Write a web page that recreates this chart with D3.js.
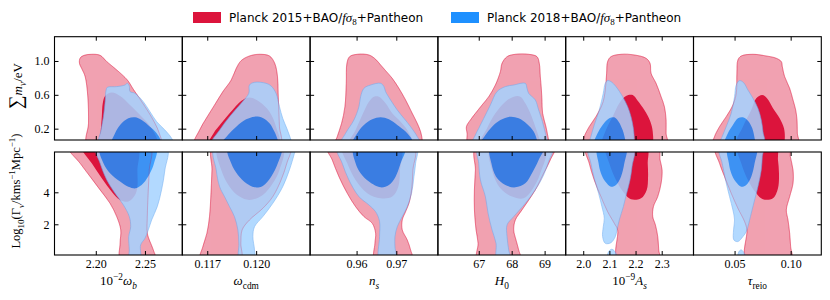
<!DOCTYPE html>
<html>
<head>
<meta charset="utf-8">
<script src="https://cdn.jsdelivr.net/npm/d3@7"></script>
<style>
  body { margin: 0; background: #fff; }
  svg { display: block; }
  .serif { font-family: "Liberation Serif", "DejaVu Serif", serif; }
  .sans { font-family: "DejaVu Sans", "Liberation Sans", sans-serif; }
</style>
</head>
<body>
<svg id="chart" width="830" height="300"></svg>
<script>
// ---- series ----
const seriesNames = ["Planck 2015+BAO/", "Planck 2018+BAO/"];
const seriesColors = ["#dc143c", "#1e90ff"];   // 68% fill
const seriesPale = ["#f1a1b1", "#a5d3ff"];     // 95% fill

// ---- axes ----
const xParams = ["wb", "wcdm", "ns", "H0", "As", "tau"];
const xDomains = [[2.158, 2.288], [0.11547, 0.12331], [0.94829, 0.98048], [65.76, 69.64], [1.933, 2.4215], [0.0134, 0.1273]];
const xTicks = [[2.20, 2.25], [0.117, 0.120], [0.96, 0.97], [67, 68, 69], [2.0, 2.1, 2.2, 2.3], [0.05, 0.10]];
const xTickFormats = [".2f", ".3f", ".2f", "d", ".1f", ".2f"];
const mnuDomain = [0.066, 1.287];
const mnuTicks = [0.2, 0.6, 1.0];
const gammaDomain = [0.08, 6.52];
const gammaTicks = [2, 4];

// ---- contours: [x, y] in parameter units (p15 = Planck 2015, p18 = Planck 2018) ----
const mnu_wb = {
  p15_95: [[2.1915,0.007],[2.1926,0.263],[2.1919,0.578],[2.1892,0.815],[2.1861,0.901],[2.1834,0.972],[2.1841,1.035],[2.1882,1.067],[2.1959,1.079],[2.2044,1.067],[2.2112,0.992],[2.2213,0.894],[2.2321,0.775],[2.2382,0.665],[2.2456,0.539],[2.2534,0.401],[2.2602,0.263],[2.2646,0.145],[2.2663,0.007]],
  p15_68: [[2.2044,0.007],[2.2051,0.184],[2.2061,0.342],[2.2071,0.500],[2.2095,0.586],[2.2162,0.626],[2.2247,0.586],[2.2348,0.480],[2.2467,0.342],[2.2568,0.204],[2.2625,0.007]],
  p18_95: [[2.2037,0.007],[2.2054,0.184],[2.2078,0.342],[2.2095,0.519],[2.2105,0.657],[2.2118,0.689],[2.2213,0.697],[2.2297,0.716],[2.2321,0.736],[2.2341,0.704],[2.2348,0.638],[2.2399,0.618],[2.2483,0.519],[2.2551,0.401],[2.2619,0.283],[2.2703,0.184],[2.2771,0.086],[2.2794,0.007]],
  p18_68: [[2.2162,0.007],[2.2196,0.145],[2.2247,0.243],[2.2331,0.322],[2.2399,0.334],[2.2467,0.303],[2.2551,0.224],[2.2619,0.145],[2.2669,0.007]]
};
const mnu_wcdm = {
  p15_95: [[0.11622,0.007],[0.11653,0.184],[0.11694,0.322],[0.11745,0.480],[0.11796,0.638],[0.11847,0.775],[0.11878,0.913],[0.11908,1.004],[0.11959,1.059],[0.12020,1.079],[0.12082,1.059],[0.12114,0.972],[0.12131,0.815],[0.12135,0.618],[0.12139,0.421],[0.12143,0.224],[0.12147,0.007]],
  p15_68: [[0.11710,0.007],[0.11739,0.145],[0.11786,0.263],[0.11837,0.381],[0.11888,0.492],[0.11918,0.539],[0.11959,0.567],[0.12020,0.519],[0.12082,0.401],[0.12122,0.224],[0.12139,0.007]],
  p18_95: [[0.11724,0.007],[0.11776,0.184],[0.11837,0.342],[0.11908,0.500],[0.11955,0.618],[0.11959,0.716],[0.11990,0.748],[0.12061,0.736],[0.12092,0.704],[0.12122,0.618],[0.12143,0.460],[0.12163,0.322],[0.12188,0.204],[0.12214,0.066],[0.12224,0.007]],
  p18_68: [[0.11786,0.007],[0.11827,0.125],[0.11878,0.224],[0.11939,0.310],[0.11990,0.342],[0.12041,0.326],[0.12082,0.263],[0.12112,0.165],[0.12133,0.066],[0.12143,0.007]]
};
const mnu_ns = {
  p15_95: [[0.95454,0.007],[0.95513,0.106],[0.95622,0.263],[0.95706,0.460],[0.95740,0.736],[0.95757,0.972],[0.95824,1.051],[0.96017,1.079],[0.96311,1.071],[0.96479,1.020],[0.96605,0.953],[0.96730,0.886],[0.96898,0.795],[0.97066,0.677],[0.97234,0.539],[0.97402,0.381],[0.97528,0.263],[0.97612,0.165],[0.97654,0.066],[0.97654,0.007]],
  p15_68: [[0.95807,0.007],[0.95975,0.184],[0.96143,0.362],[0.96311,0.519],[0.96437,0.578],[0.96563,0.578],[0.96730,0.500],[0.96898,0.381],[0.97108,0.283],[0.97276,0.184],[0.97402,0.007]],
  p18_95: [[0.95597,0.007],[0.95723,0.145],[0.95933,0.303],[0.96059,0.460],[0.96101,0.578],[0.96185,0.677],[0.96353,0.716],[0.96605,0.736],[0.96689,0.697],[0.96730,0.638],[0.96856,0.539],[0.97024,0.421],[0.97192,0.322],[0.97360,0.224],[0.97528,0.106],[0.97612,0.007]],
  p18_68: [[0.95891,0.007],[0.96017,0.145],[0.96185,0.243],[0.96395,0.310],[0.96605,0.334],[0.96814,0.310],[0.97024,0.243],[0.97234,0.165],[0.97402,0.066],[0.97444,0.007]]
};
const mnu_H0 = {
  p15_95: [[66.697,0.007],[66.646,0.145],[66.626,0.224],[66.747,0.303],[66.899,0.381],[67.101,0.480],[67.303,0.578],[67.505,0.716],[67.657,0.874],[67.707,0.972],[67.859,1.051],[68.111,1.079],[68.515,1.079],[68.768,1.051],[68.838,0.972],[68.869,0.815],[68.899,0.677],[68.919,0.539],[68.939,0.381],[69.040,0.224],[69.121,0.066],[69.152,0.007]],
  p15_68: [[67.051,0.007],[67.253,0.204],[67.505,0.381],[67.808,0.519],[68.061,0.578],[68.263,0.578],[68.414,0.500],[68.566,0.381],[68.717,0.224],[68.818,0.106],[68.869,0.007]],
  p18_95: [[66.798,0.007],[66.899,0.125],[67.000,0.204],[67.152,0.322],[67.354,0.480],[67.556,0.638],[67.808,0.697],[68.061,0.716],[68.414,0.736],[68.465,0.677],[68.515,0.618],[68.717,0.539],[68.818,0.421],[68.919,0.303],[69.000,0.184],[69.071,0.066],[69.101,0.007]],
  p18_68: [[67.051,0.007],[67.202,0.125],[67.404,0.224],[67.657,0.303],[67.960,0.342],[68.212,0.322],[68.465,0.255],[68.667,0.165],[68.768,0.066],[68.798,0.007]]
};
const mnu_As = {
  p15_95: [[1.9974,0.007],[2.0038,0.106],[2.0230,0.224],[2.0485,0.342],[2.0741,0.500],[2.0843,0.657],[2.0894,0.854],[2.0932,0.992],[2.1060,1.051],[2.1443,1.079],[2.1954,1.071],[2.2401,1.032],[2.2554,0.972],[2.2593,0.854],[2.2784,0.736],[2.2976,0.578],[2.3103,0.460],[2.3167,0.303],[2.3167,0.145],[2.3193,0.007]],
  p15_68: [[2.0741,0.007],[2.0868,0.184],[2.1124,0.342],[2.1379,0.500],[2.1635,0.586],[2.1890,0.598],[2.2082,0.531],[2.2337,0.421],[2.2554,0.295],[2.2656,0.165],[2.2593,0.007]],
  p18_95: [[2.0230,0.007],[2.0294,0.106],[2.0421,0.243],[2.0613,0.421],[2.0766,0.618],[2.0843,0.736],[2.0932,0.768],[2.1060,0.756],[2.1252,0.697],[2.1507,0.578],[2.1699,0.460],[2.1826,0.342],[2.1916,0.204],[2.1954,0.066],[2.1954,0.007]],
  p18_68: [[2.0421,0.007],[2.0549,0.145],[2.0741,0.243],[2.0996,0.322],[2.1188,0.334],[2.1354,0.283],[2.1507,0.184],[2.1609,0.066],[2.1635,0.007]]
};
const mnu_tau = {
  p15_95: [[0.03065,0.007],[0.03214,0.106],[0.03661,0.224],[0.04256,0.342],[0.04851,0.480],[0.05149,0.618],[0.05208,0.854],[0.05298,1.012],[0.05595,1.059],[0.06637,1.079],[0.07827,1.059],[0.08720,1.032],[0.09167,0.992],[0.09256,0.933],[0.09464,0.815],[0.09911,0.677],[0.10208,0.539],[0.10446,0.421],[0.10565,0.303],[0.10595,0.145],[0.10655,0.007]],
  p15_68: [[0.05149,0.007],[0.05744,0.224],[0.06488,0.421],[0.06935,0.559],[0.07470,0.598],[0.07887,0.559],[0.08423,0.441],[0.09018,0.322],[0.09405,0.204],[0.09464,0.066],[0.09315,0.007]],
  p18_95: [[0.03661,0.007],[0.03899,0.106],[0.04256,0.224],[0.04702,0.381],[0.05,0.578],[0.05149,0.716],[0.05446,0.768],[0.05804,0.744],[0.06190,0.657],[0.06637,0.559],[0.07083,0.441],[0.07381,0.303],[0.07530,0.165],[0.07619,0.007]],
  p18_68: [[0.04107,0.007],[0.04405,0.145],[0.04851,0.243],[0.05298,0.322],[0.05744,0.334],[0.06190,0.295],[0.06577,0.204],[0.06786,0.086],[0.06875,0.007]]
};

const gam_wb = {
  p15_95: [[2.1723,6.85],[2.1841,5.81],[2.1943,4.98],[2.2044,4.15],[2.2145,3.31],[2.2213,2.48],[2.2254,1.65],[2.2247,0.81],[2.2254,-0.23],[2.2605,-0.23],[2.2585,0.40],[2.2551,0.92],[2.2524,1.44],[2.2524,2.48],[2.2534,4.15],[2.2544,5.40],[2.2551,6.85]],
  p15_68: [[2.1858,6.85],[2.1959,5.81],[2.2061,4.875],[2.2162,4.04],[2.2247,3.52],[2.2331,3.42],[2.2399,3.83],[2.2423,4.35],[2.2423,5.40],[2.2423,6.85]],
  p18_95: [[2.2003,6.85],[2.2044,5.81],[2.2112,4.77],[2.2196,3.94],[2.2281,3.21],[2.2341,2.48],[2.2355,1.85],[2.2335,1.23],[2.2341,0.40],[2.2341,-0.23],[2.2450,-0.23],[2.2456,0.71],[2.2500,1.125],[2.2534,1.65],[2.2568,2.27],[2.2625,3.10],[2.2669,4.15],[2.2703,5.40],[2.2720,6.85]],
  p18_68: [[2.2044,6.85],[2.2078,5.81],[2.2145,5.19],[2.2247,4.67],[2.2331,4.35],[2.2409,4.25],[2.2483,4.56],[2.2551,5.19],[2.2592,5.81],[2.2612,6.85]]
};
const gam_wcdm = {
  p15_95: [[0.11735,6.85],[0.11729,5.40],[0.11722,3.73],[0.11714,2.48],[0.11698,1.44],[0.11673,0.60],[0.11657,-0.23],[0.11906,-0.23],[0.11906,0.81],[0.11914,1.65],[0.11959,2.27],[0.12041,3.00],[0.12102,3.73],[0.12153,4.77],[0.12188,5.81],[0.12208,6.85]],
  p15_68: [[0.11765,6.85],[0.11786,5.40],[0.11837,4.35],[0.11898,3.73],[0.11959,3.52],[0.12041,3.83],[0.12102,4.56],[0.12143,5.40],[0.12163,6.85]],
  p18_95: [[0.11745,6.85],[0.11755,5.40],[0.11776,4.35],[0.11806,3.73],[0.11837,3.10],[0.11867,2.48],[0.11888,1.65],[0.11894,0.81],[0.11898,-0.23],[0.11990,-0.23],[0.11990,0.40],[0.11980,1.23],[0.11990,1.85],[0.12041,2.48],[0.12102,3.31],[0.12163,4.35],[0.12204,5.40],[0.12235,6.44],[0.12245,6.85]],
  p18_68: [[0.11827,6.85],[0.11847,5.81],[0.11888,5.08],[0.11939,4.56],[0.11990,4.31],[0.12041,4.40],[0.12092,4.98],[0.12133,5.81],[0.12153,6.85]]
};
const gam_ns = {
  p15_95: [[0.95261,6.85],[0.95387,6.02],[0.95555,4.98],[0.95765,3.94],[0.95975,3.10],[0.96185,2.48],[0.96395,2.06],[0.96479,1.44],[0.96462,0.81],[0.96462,-0.23],[0.97402,-0.23],[0.97360,0.40],[0.97276,1.02],[0.97150,1.65],[0.97150,2.27],[0.97234,2.79],[0.97318,3.31],[0.97385,4.15],[0.97419,5.40],[0.97444,6.85]],
  p15_68: [[0.95639,6.85],[0.95765,5.81],[0.95975,4.77],[0.96269,3.94],[0.96605,3.625],[0.96898,3.73],[0.97050,4.35],[0.97092,5.40],[0.97108,6.85]],
  p18_95: [[0.95513,6.85],[0.95639,5.81],[0.95807,4.77],[0.96059,3.73],[0.96311,3.21],[0.96479,2.79],[0.96579,2.17],[0.96579,1.23],[0.96579,-0.23],[0.96982,-0.23],[0.96966,0.60],[0.96966,1.23],[0.97024,1.85],[0.97150,2.48],[0.97276,3.10],[0.97385,3.94],[0.97444,4.98],[0.97486,5.81],[0.97503,6.85]],
  p18_68: [[0.95933,6.85],[0.95975,5.81],[0.96101,5.19],[0.96311,4.67],[0.96605,4.31],[0.96814,4.46],[0.96982,4.98],[0.97108,5.81],[0.97217,6.85]]
};
const gam_H0 = {
  p15_95: [[66.919,6.85],[66.899,5.40],[66.868,4.15],[66.869,2.90],[66.919,1.65],[66.980,0.81],[66.960,-0.23],[68.263,-0.23],[68.212,0.40],[68.131,1.02],[68.061,1.65],[68.111,2.27],[68.313,2.90],[68.717,4.15],[68.970,5.19],[69.172,6.02],[69.303,6.85]],
  p15_68: [[67.354,6.85],[67.404,5.40],[67.657,4.25],[68.010,3.73],[68.364,3.625],[68.616,4.15],[68.869,5.19],[69.020,6.85]],
  p18_95: [[66.980,6.85],[67.000,5.81],[67.051,4.77],[67.202,3.73],[67.283,2.69],[67.404,1.65],[67.525,0.81],[67.556,-0.23],[67.960,-0.23],[67.909,0.40],[67.859,1.23],[67.859,1.96],[68.061,2.48],[68.414,3.31],[68.717,4.15],[68.970,5.08],[69.121,5.92],[69.242,6.85]],
  p18_68: [[67.354,6.85],[67.384,5.81],[67.525,4.98],[67.808,4.46],[68.111,4.31],[68.414,4.56],[68.616,5.19],[68.818,6.02],[68.970,6.85]]
};
const gam_As = {
  p15_95: [[2.0102,6.85],[2.0230,5.81],[2.0421,4.77],[2.0677,3.73],[2.0932,2.79],[2.1188,2.06],[2.1315,1.65],[2.1315,-0.23],[2.2912,-0.23],[2.2886,0.40],[2.2848,1.23],[2.2759,1.96],[2.2656,2.48],[2.2682,3.10],[2.2848,3.73],[2.2976,4.56],[2.3014,5.40],[2.2937,6.02],[2.2848,6.85]],
  p15_68: [[2.0868,6.85],[2.0996,5.81],[2.1252,4.77],[2.1571,3.94],[2.1826,3.56],[2.2209,3.625],[2.2427,4.15],[2.2478,4.98],[2.2465,5.81],[2.2427,6.85]],
  p18_95: [[2.0204,6.85],[2.0294,5.81],[2.0421,4.875],[2.0587,3.94],[2.0715,3.10],[2.0805,2.375],[2.0766,1.85],[2.0741,1.23],[2.0843,0.81],[2.1060,0.85],[2.1226,1.23],[2.1290,1.65],[2.1379,2.27],[2.1533,3.10],[2.1660,3.94],[2.1788,4.77],[2.1865,5.60],[2.1916,6.85]],
  p18_95b: [[2.0932,-0.23],[2.0971,0.29],[2.1098,0.44],[2.1252,0.19],[2.1277,-0.23]],
  p18_68: [[2.0549,6.85],[2.0587,5.81],[2.0677,5.19],[2.0843,4.67],[2.1060,4.35],[2.1252,4.46],[2.1443,4.98],[2.1571,5.81],[2.1635,6.85]]
};
const gam_tau = {
  p15_95: [[0.03304,6.85],[0.03661,5.81],[0.04107,4.98],[0.04702,3.94],[0.05298,3.00],[0.05893,2.17],[0.06101,1.65],[0.06042,-0.23],[0.10060,-0.23],[0.10000,0.60],[0.09911,1.44],[0.09762,2.27],[0.09613,2.90],[0.09911,3.73],[0.10208,4.56],[0.10208,5.40],[0.09970,6.23],[0.09851,6.85]],
  p15_68: [[0.05298,6.85],[0.05595,5.81],[0.06190,4.77],[0.06935,3.94],[0.07530,3.56],[0.08423,3.625],[0.08869,4.25],[0.08958,5.19],[0.08869,6.02],[0.08720,6.85]],
  p18_95: [[0.03661,6.85],[0.03899,5.81],[0.04196,4.77],[0.04554,3.73],[0.04851,2.90],[0.05,2.27],[0.04911,1.65],[0.04940,1.02],[0.05298,0.92],[0.05744,1.23],[0.06042,1.54],[0.06190,1.85],[0.06488,2.69],[0.06786,3.52],[0.07083,4.35],[0.07381,5.40],[0.07470,6.23],[0.07530,6.85]],
  p18_95b: [[0.05298,-0.23],[0.05387,0.29],[0.05595,0.40],[0.05893,0.15],[0.05982,-0.23]],
  p18_68: [[0.04405,6.85],[0.04494,5.81],[0.04702,5.19],[0.05089,4.67],[0.05595,4.35],[0.06042,4.46],[0.06488,4.98],[0.06786,5.81],[0.06935,6.85]]
};

const contourRows = [
  [mnu_wb, mnu_wcdm, mnu_ns, mnu_H0, mnu_As, mnu_tau],
  [gam_wb, gam_wcdm, gam_ns, gam_H0, gam_As, gam_tau]
];

// ---- layout ----
const svg = d3.select("#chart");
const left = 54.5, colW = 127.8;
const rows = [
  { top: 36.7, bottom: 140, domain: mnuDomain, ticks: mnuTicks, fmt: ".1f" },
  { top: 152, bottom: 255, domain: gammaDomain, ticks: gammaTicks, fmt: "d" }
];

function styleAxis(g) {
  g.select(".domain").remove();
  g.selectAll(".tick line").attr("stroke", "#000").attr("stroke-width", 1);
  g.selectAll("text").attr("class", "serif").attr("font-size", 12).attr("fill", "#000");
  g.attr("font-family", null).attr("font-size", null);
}

rows.forEach((row, ri) => {
  const y = d3.scaleLinear().domain(row.domain).range([row.bottom, row.top]);

  xParams.forEach((p, ci) => {
    const x0 = left + ci * colW, x1 = x0 + colW;
    const x = d3.scaleLinear().domain(xDomains[ci]).range([x0, x1]);
    const clipId = `clip-${ri}-${ci}`;
    svg.append("clipPath").attr("id", clipId)
      .append("rect").attr("x", x0).attr("y", row.top)
      .attr("width", colW).attr("height", row.bottom - row.top);

    const line = d3.line()
      .x(d => x(d[0])).y(d => y(d[1]))
      .curve(d3.curveCatmullRomClosed.alpha(0.5));
    const c = contourRows[ri][ci];
    const g = svg.append("g").attr("clip-path", `url(#${clipId})`);

    // Planck 2015, drawn first and opaque
    g.append("path").attr("d", line(c.p15_95))
      .attr("fill", seriesPale[0]).attr("stroke", seriesColors[0])
      .attr("stroke-width", 0.6).attr("stroke-opacity", 0.6);
    g.append("path").attr("d", line(c.p15_68)).attr("fill", seriesColors[0]);

    // Planck 2018, drawn on top with alpha
    const gb = g.append("g").attr("opacity", 0.85);
    [c.p18_95, c.p18_95b].filter(Boolean).forEach(poly => {
      gb.append("path").attr("d", line(poly))
        .attr("fill", seriesPale[1]).attr("stroke", "#6aaaf0").attr("stroke-width", 0.6);
    });
    gb.append("path").attr("d", line(c.p18_68)).attr("fill", seriesColors[1]);

    // faint 2015 outline seen through the blue
    g.append("path").attr("d", line(c.p15_95))
      .attr("fill", "none").attr("stroke", seriesColors[0])
      .attr("stroke-width", 0.6).attr("stroke-opacity", 0.35);

    // axes, inward ticks on all sides
    const fmt = d3.format(xTickFormats[ci]);
    svg.append("g").attr("transform", `translate(0,${row.bottom})`)
      .call(d3.axisBottom(x).tickValues(xTicks[ci]).tickSize(-4).tickPadding(4.5)
        .tickFormat(ri === 1 ? fmt : ""))
      .call(styleAxis);
    svg.append("g").attr("transform", `translate(0,${row.top})`)
      .call(d3.axisTop(x).tickValues(xTicks[ci]).tickSize(-4).tickFormat(""))
      .call(styleAxis);
    svg.append("g").attr("transform", `translate(${x0},0)`)
      .call(d3.axisLeft(y).tickValues(row.ticks).tickSize(-4).tickPadding(5)
        .tickFormat(ci === 0 ? d3.format(row.fmt) : ""))
      .call(styleAxis);
    svg.append("g").attr("transform", `translate(${x1},0)`)
      .call(d3.axisRight(y).tickValues(row.ticks).tickSize(-4).tickFormat(""))
      .call(styleAxis);

    svg.append("rect").attr("x", x0).attr("y", row.top)
      .attr("width", colW).attr("height", row.bottom - row.top)
      .attr("fill", "none").attr("stroke", "#000").attr("stroke-width", 1.1);
  });
});

// ---- axis labels ----
// each label: list of [text, style] where style: n normal, i italic, sub, sup, isub (italic subscript)
function richText(sel, parts, size) {
  let shift = 0;
  parts.forEach(([t, s]) => {
    const ts = sel.append("tspan").text(t);
    let target = 0, fs = size;
    if (s === "sub" || s === "isub") { target = size * 0.3; fs = size * 0.72; }
    if (s === "sup") { target = -size * 0.4; fs = size * 0.72; }
    if (s === "i" || s === "isub") ts.attr("font-style", "italic");
    ts.attr("font-size", fs).attr("dy", target - shift);
    shift = target;
  });
}

const xLabels = [
  [["10", "n"], ["−2", "sup"], ["ω", "i"], ["b", "isub"]],
  [["ω", "i"], ["cdm", "sub"]],
  [["n", "i"], ["s", "isub"]],
  [["H", "i"], ["0", "sub"]],
  [["10", "n"], ["−9", "sup"], ["A", "i"], ["s", "isub"]],
  [["τ", "i"], ["reio", "sub"]]
];
xLabels.forEach((parts, ci) => {
  const t = svg.append("text").attr("class", "serif")
    .attr("x", left + ci * colW + colW / 2).attr("y", 285)
    .attr("text-anchor", "middle").attr("fill", "#000");
  richText(t, parts, 13);
});

const yTop = svg.append("text").attr("class", "serif")
  .attr("transform", "translate(22,86) rotate(-90)")
  .attr("text-anchor", "middle").attr("fill", "#000");
richText(yTop, [["∑", "n"]], 19);
const yTopRest = yTop.append("tspan").attr("dx", 2);
richText(yTop, [["m", "i"], ["ν", "isub"], ["/eV", "n"]], 13);

const yBot = svg.append("text").attr("class", "serif")
  .attr("transform", "translate(20,191) rotate(-90)")
  .attr("text-anchor", "middle").attr("fill", "#000");
richText(yBot, [["Log", "n"], ["10", "sub"], ["(Γ", "n"], ["ν", "isub"], ["/kms", "n"], ["−1", "sup"], ["Mpc", "n"], ["−1", "sup"], [")", "n"]], 12.5);

// ---- legend ----
const legendX = [193, 451];
seriesNames.forEach((name, i) => {
  const lx = legendX[i];
  svg.append("rect").attr("x", lx).attr("y", 12).attr("width", 28).attr("height", 11)
    .attr("fill", seriesColors[i]);
  const t = svg.append("text").attr("class", "sans").attr("x", lx + 36).attr("y", 22)
    .attr("font-size", 12).attr("fill", "#000");
  t.append("tspan").text(name);
  t.append("tspan").attr("class", "serif").attr("font-style", "italic").attr("font-size", 13).text("fσ");
  t.append("tspan").attr("class", "serif").attr("font-size", 9).attr("dy", 3).text("8");
  t.append("tspan").attr("dy", -3).text("+Pantheon");
});
</script>
</body>
</html>
